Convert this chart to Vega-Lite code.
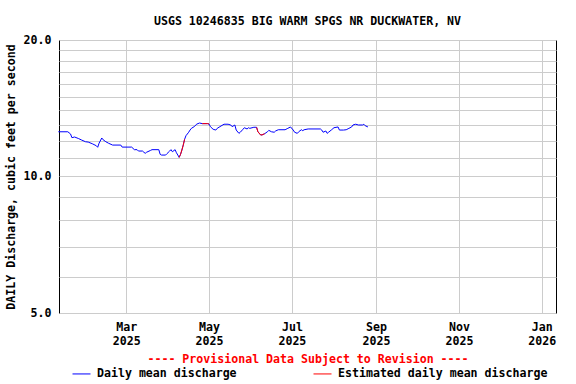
{
  "$schema": "https://vega.github.io/schema/vega-lite/v6.json",
  "width": 497,
  "height": 273,
  "autosize": {"type": "none"},
  "padding": {"left": 59, "top": 40, "right": 20, "bottom": 71},
  "background": "white",
  "config": {"font": "DejaVu Sans Mono", "view": {"stroke": "black", "strokeWidth": 1}},
  "title": {"text": "USGS 10246835 BIG WARM SPGS NR DUCKWATER, NV", "font": "DejaVu Sans Mono", "fontSize": 11.6, "fontWeight": "bold", "color": "black", "anchor": "middle", "frame": "group", "baseline": "bottom", "offset": 13, "dy": 18},
  "data": {"values": [
    {"date": "2025-01-10", "q": 12.55},
    {"date": "2025-01-17", "q": 12.55},
    {"date": "2025-01-19", "q": 12.41},
    {"date": "2025-01-20", "q": 12.18},
    {"date": "2025-01-22", "q": 12.22},
    {"date": "2025-01-25", "q": 12.12},
    {"date": "2025-01-27", "q": 12.04},
    {"date": "2025-01-30", "q": 11.93},
    {"date": "2025-02-01", "q": 11.91},
    {"date": "2025-02-04", "q": 11.81},
    {"date": "2025-02-07", "q": 11.69},
    {"date": "2025-02-08", "q": 11.60},
    {"date": "2025-02-09", "q": 11.84},
    {"date": "2025-02-11", "q": 12.16},
    {"date": "2025-02-12", "q": 12.05},
    {"date": "2025-02-14", "q": 11.93},
    {"date": "2025-02-16", "q": 11.84},
    {"date": "2025-02-19", "q": 11.73},
    {"date": "2025-02-25", "q": 11.73},
    {"date": "2025-02-26", "q": 11.61},
    {"date": "2025-03-05", "q": 11.61},
    {"date": "2025-03-07", "q": 11.46},
    {"date": "2025-03-09", "q": 11.46},
    {"date": "2025-03-10", "q": 11.38},
    {"date": "2025-03-13", "q": 11.38},
    {"date": "2025-03-14", "q": 11.31},
    {"date": "2025-03-15", "q": 11.25},
    {"date": "2025-03-16", "q": 11.31},
    {"date": "2025-03-19", "q": 11.42},
    {"date": "2025-03-20", "q": 11.46},
    {"date": "2025-03-25", "q": 11.46},
    {"date": "2025-03-26", "q": 11.19},
    {"date": "2025-03-27", "q": 11.15},
    {"date": "2025-03-30", "q": 11.15},
    {"date": "2025-03-31", "q": 11.23},
    {"date": "2025-04-02", "q": 11.38},
    {"date": "2025-04-03", "q": 11.46},
    {"date": "2025-04-04", "q": 11.34},
    {"date": "2025-04-06", "q": 11.46},
    {"date": "2025-04-07", "q": 11.28},
    {"date": "2025-04-08", "q": 11.15},
    {"date": "2025-04-09", "q": 11.02, "seg": "A"},
    {"date": "2025-04-10", "q": 11.19, "seg": "A"},
    {"date": "2025-04-11", "q": 11.44, "seg": "A"},
    {"date": "2025-04-12", "q": 11.73, "seg": "A"},
    {"date": "2025-04-13", "q": 12.08, "seg": "A"},
    {"date": "2025-04-14", "q": 12.30},
    {"date": "2025-04-16", "q": 12.52},
    {"date": "2025-04-17", "q": 12.66},
    {"date": "2025-04-18", "q": 12.77},
    {"date": "2025-04-20", "q": 12.88},
    {"date": "2025-04-22", "q": 13.05},
    {"date": "2025-04-24", "q": 13.12},
    {"date": "2025-04-26", "q": 13.08, "seg": "B"},
    {"date": "2025-04-28", "q": 13.08, "seg": "B"},
    {"date": "2025-04-30", "q": 13.08, "seg": "B"},
    {"date": "2025-05-01", "q": 13.05, "seg": "B"},
    {"date": "2025-05-02", "q": 12.88},
    {"date": "2025-05-04", "q": 12.71},
    {"date": "2025-05-06", "q": 12.66},
    {"date": "2025-05-07", "q": 12.77},
    {"date": "2025-05-09", "q": 12.88},
    {"date": "2025-05-12", "q": 13.04},
    {"date": "2025-05-15", "q": 13.04},
    {"date": "2025-05-17", "q": 12.99},
    {"date": "2025-05-18", "q": 12.88},
    {"date": "2025-05-20", "q": 12.99},
    {"date": "2025-05-21", "q": 12.66},
    {"date": "2025-05-23", "q": 12.45},
    {"date": "2025-05-24", "q": 12.52},
    {"date": "2025-05-26", "q": 12.71},
    {"date": "2025-05-27", "q": 12.81},
    {"date": "2025-05-29", "q": 12.73},
    {"date": "2025-05-30", "q": 12.81},
    {"date": "2025-05-31", "q": 12.77},
    {"date": "2025-06-03", "q": 12.84},
    {"date": "2025-06-05", "q": 12.84, "seg": "C"},
    {"date": "2025-06-06", "q": 12.55, "seg": "C"},
    {"date": "2025-06-08", "q": 12.35, "seg": "C"},
    {"date": "2025-06-09", "q": 12.35, "seg": "C"},
    {"date": "2025-06-11", "q": 12.43, "seg": "C"},
    {"date": "2025-06-13", "q": 12.55},
    {"date": "2025-06-14", "q": 12.64},
    {"date": "2025-06-16", "q": 12.55},
    {"date": "2025-06-18", "q": 12.52},
    {"date": "2025-06-19", "q": 12.60},
    {"date": "2025-06-21", "q": 12.68},
    {"date": "2025-06-26", "q": 12.68},
    {"date": "2025-06-28", "q": 12.77},
    {"date": "2025-06-30", "q": 12.86},
    {"date": "2025-07-02", "q": 12.66},
    {"date": "2025-07-03", "q": 12.52},
    {"date": "2025-07-05", "q": 12.45},
    {"date": "2025-07-06", "q": 12.55},
    {"date": "2025-07-08", "q": 12.68},
    {"date": "2025-07-09", "q": 12.62},
    {"date": "2025-07-10", "q": 12.68},
    {"date": "2025-07-13", "q": 12.73},
    {"date": "2025-07-22", "q": 12.73},
    {"date": "2025-07-23", "q": 12.66},
    {"date": "2025-07-24", "q": 12.52},
    {"date": "2025-07-26", "q": 12.60},
    {"date": "2025-07-27", "q": 12.45},
    {"date": "2025-07-28", "q": 12.52},
    {"date": "2025-07-30", "q": 12.66},
    {"date": "2025-08-01", "q": 12.81},
    {"date": "2025-08-04", "q": 12.86},
    {"date": "2025-08-05", "q": 12.66},
    {"date": "2025-08-08", "q": 12.66},
    {"date": "2025-08-10", "q": 12.68},
    {"date": "2025-08-12", "q": 12.77},
    {"date": "2025-08-14", "q": 12.86},
    {"date": "2025-08-15", "q": 12.99},
    {"date": "2025-08-17", "q": 13.04},
    {"date": "2025-08-19", "q": 12.99},
    {"date": "2025-08-22", "q": 12.99},
    {"date": "2025-08-23", "q": 13.04},
    {"date": "2025-08-24", "q": 12.94},
    {"date": "2025-08-26", "q": 12.86}
  ]},
  "encoding": {
    "x": {
      "field": "date", "type": "temporal",
      "scale": {"type": "utc", "domain": [{"year": 2025, "month": 1, "date": 10, "hours": 12, "utc": true}, {"year": 2026, "month": 1, "date": 11, "hours": 12, "utc": true}]},
      "axis": {
        "values": [
          {"year": 2025, "month": 3, "date": 1, "utc": true},
          {"year": 2025, "month": 5, "date": 1, "utc": true},
          {"year": 2025, "month": 7, "date": 1, "utc": true},
          {"year": 2025, "month": 9, "date": 1, "utc": true},
          {"year": 2025, "month": 11, "date": 1, "utc": true},
          {"year": 2026, "month": 1, "date": 1, "utc": true}
        ],
        "labelExpr": "[utcFormat(datum.value, '%b'), utcFormat(datum.value, '%Y')]",
        "grid": true, "gridColor": "#cccccc", "gridWidth": 1,
        "ticks": false, "domain": false,
        "labelFont": "DejaVu Sans Mono", "labelFontSize": 11.6, "labelFontWeight": "bold", "labelColor": "black",
        "labelPadding": 8, "labelLineHeight": 14, "labelFlush": false, "labelOverlap": false,
        "title": "---- Provisional Data Subject to Revision ----",
        "titleColor": "#ff0000", "titleFont": "DejaVu Sans Mono", "titleFontSize": 11.6, "titleFontWeight": "bold", "titlePadding": 7
      }
    },
    "y": {
      "field": "q", "type": "quantitative",
      "scale": {"type": "log", "domain": [5, 20], "nice": false},
      "axis": {
        "values": [5, 6, 7, 8, 9, 10, 11, 12, 13, 14, 15, 16, 17, 18, 19, 20],
        "labelExpr": "datum.value == 5 || datum.value == 10 || datum.value == 20 ? format(datum.value, '.1f') : ''",
        "grid": true, "gridColor": "#cccccc", "gridWidth": 1,
        "ticks": false, "domain": false,
        "labelFont": "DejaVu Sans Mono", "labelFontSize": 11.6, "labelFontWeight": "bold", "labelColor": "black",
        "labelPadding": 8, "labelOverlap": false,
        "title": "DAILY Discharge, cubic feet per second",
        "titleColor": "black", "titleFont": "DejaVu Sans Mono", "titleFontSize": 11.6, "titleFontWeight": "bold", "titlePadding": 7
      }
    }
  },
  "layer": [
    {
      "mark": {"type": "line", "strokeWidth": 1},
      "encoding": {
        "color": {
          "datum": "Daily mean discharge",
          "scale": {"domain": ["Daily mean discharge", "Estimated daily mean discharge"], "range": ["#0000ff", "#ff0000"]},
          "legend": {
            "title": null, "orient": "none", "legendX": 13, "legendY": 324, "direction": "horizontal",
            "symbolType": "stroke", "symbolSize": 324, "symbolStrokeWidth": 1,
            "labelFont": "DejaVu Sans Mono", "labelFontSize": 11.6, "labelFontWeight": "bold", "labelColor": "black",
            "labelOffset": 6, "columnPadding": 74, "padding": 0, "labelLimit": 400
          }
        }
      }
    },
    {
      "transform": [{"filter": "isValid(datum.seg)"}],
      "mark": {"type": "line", "strokeWidth": 1},
      "encoding": {
        "color": {"datum": "Estimated daily mean discharge"},
        "detail": {"field": "seg"}
      }
    }
  ]
}
